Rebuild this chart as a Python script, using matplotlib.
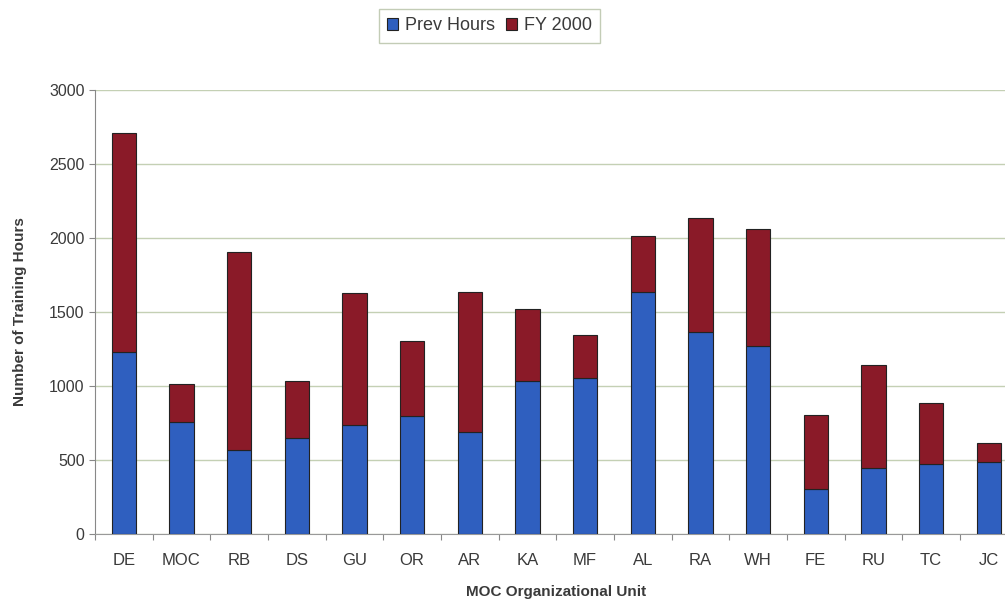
import numpy as np
import matplotlib.pyplot as plt

plt.rcParams['font.family'] = ['Liberation Sans', 'DejaVu Sans']

# data
units = ['DE', 'MOC', 'RB', 'DS', 'GU', 'OR', 'AR', 'KA', 'MF', 'AL', 'RA', 'WH', 'FE', 'RU', 'TC', 'JC']
prev_hours = [1230, 757, 568, 649, 737, 797, 689, 1034, 1054, 1635, 1365, 1270, 304, 446, 473, 486]
total_hours = [2710, 1013, 1905, 1034, 1628, 1304, 1635, 1520, 1345, 2014, 2135, 2061, 804, 1142, 885, 615]
fy2000 = [t - p for t, p in zip(total_hours, prev_hours)]

blue = '#2f5fbf'
red = '#8a1a28'

fig = plt.figure(figsize=(10.05, 6.04), dpi=100)
ax = fig.add_axes([0.0945, 0.1159, 0.918, 0.7351])

x = np.arange(len(units))
ax.bar(x, prev_hours, width=0.42, color=blue, edgecolor='#222222', linewidth=0.8, label='Prev Hours', zorder=3)
ax.bar(x, fy2000, width=0.42, bottom=prev_hours, color=red, edgecolor='#222222', linewidth=0.8, label='FY 2000', zorder=3)

ax.set_xlim(-0.5, len(units) - 0.5)
ax.set_ylim(0, 3000)
ax.set_yticks(np.arange(0, 3001, 500))
ax.yaxis.grid(True, color='#c4d0b4', linewidth=1.0, zorder=0)

# category ticks sit between the bars
ax.set_xticks(np.arange(-0.5, len(units), 1.0), minor=False)
ax.set_xticklabels([])
ax.set_xticks(x, minor=True)
ax.set_xticklabels(units, minor=True, fontsize=12, color='#3a3a3a')
ax.tick_params(axis='x', which='minor', length=0, pad=14)
ax.tick_params(axis='x', which='major', length=4, color='#888888')
ax.tick_params(axis='y', length=4, color='#888888', labelsize=11.5, labelcolor='#3a3a3a')

for side in ['top', 'right']:
    ax.spines[side].set_visible(False)
ax.spines['left'].set_color('#888888')
ax.spines['bottom'].set_color('#999999')

ax.set_ylabel('Number of Training Hours', fontsize=11, fontweight='bold', color='#3a3a3a', labelpad=16)
ax.set_xlabel('MOC Organizational Unit', fontsize=11, fontweight='bold', color='#3a3a3a', labelpad=12)

leg = fig.legend(loc='center', bbox_to_anchor=(0.487, 0.957), ncol=2, fontsize=13,
                 frameon=True, fancybox=False, edgecolor='#b4c0a4', handlelength=0.6,
                 handleheight=0.6, handletextpad=0.4, columnspacing=0.6, borderpad=0.45)
for t in leg.get_texts():
    t.set_color('#3a3a3a')

fig.savefig('out.png', dpi=100)
